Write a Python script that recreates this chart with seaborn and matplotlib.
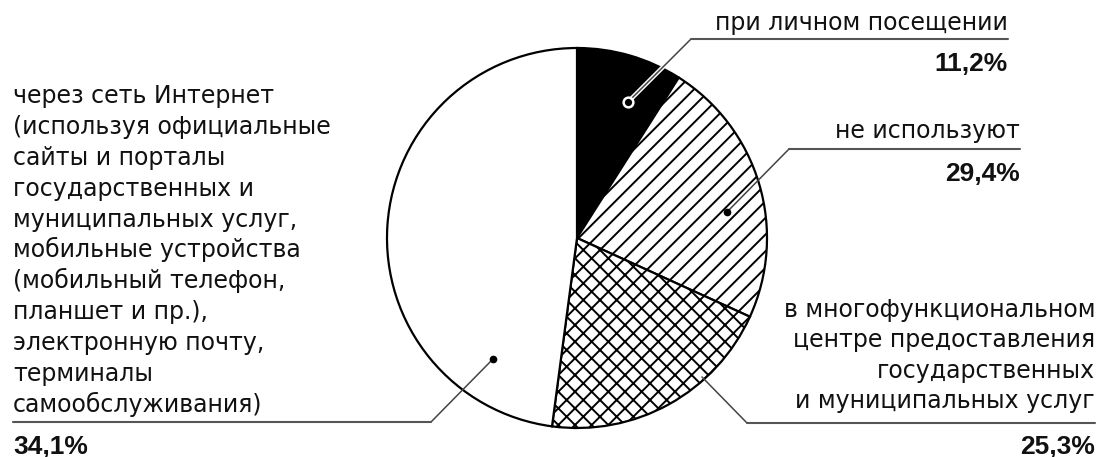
import matplotlib
matplotlib.use("Agg")
import matplotlib.pyplot as plt
import matplotlib.patheffects as pe
import seaborn as sns

# ---- data ----
categories = ["при личном посещении", "не используют",
              "в многофункциональном центре предоставления государственных и муниципальных услуг",
              "через сеть Интернет"]
# slice shares as drawn in the reference picture (angles read from it)
shares_drawn = [9.0, 22.8, 20.3, 47.9]
# percentage labels printed in the reference
pct_labels = ["11,2%", "29,4%", "25,3%", "34,1%"]

label_top = ["при личном посещении"]
label_second = ["не используют"]
label_mfc = ["в многофункциональном", "центре предоставления",
             "государственных", "и муниципальных услуг"]
label_net = ["через сеть Интернет", "(используя официальные", "сайты и порталы",
             "государственных и", "муниципальных услуг,", "мобильные устройства",
             "(мобильный телефон,", "планшет и пр.),", "электронную почту,",
             "терминалы", "самообслуживания)"]

# ---- style ----
sns.set_theme(style="white")
plt.rcParams["font.family"] = ["DejaVu Sans"]
plt.rcParams["hatch.linewidth"] = 1.4
plt.rcParams["hatch.color"] = "black"

W, H = 1098, 457
fig = plt.figure(figsize=(W / 100, H / 100), dpi=100)
ax = fig.add_axes([0, 0, 1, 1])

# ---- pie (y axis inverted below, so start at 270 and go counterclockwise in data = clockwise on screen) ----
wedges, _ = ax.pie(shares_drawn, center=(577, 238), radius=190, startangle=270,
                   counterclock=True, colors=["black", "white", "white", "white"],
                   wedgeprops=dict(edgecolor="black", linewidth=1.6), frame=True)
ax.set_xlim(0, W)
ax.set_ylim(H, 0)
ax.set_aspect("equal")
ax.axis("off")
for w, h in zip(wedges, [None, "//", "xx", None]):
    if h:
        w.set_hatch(h)

fs = 17.0
pfs = 19.0
txt = dict(fontsize=fs, color="#111111")
bold = dict(fontsize=pfs, fontweight="bold", family=["Liberation Sans"], color="#111111")
lc = "#444444"

# leader: black slice
ax.plot([628, 691], [102, 39], color=lc, lw=1.1, solid_capstyle="butt",
        path_effects=[pe.Stroke(linewidth=3.2, foreground="white"), pe.Normal()], zorder=5)
ax.plot([691, 1008], [39, 39], color="#555555", lw=1.5, zorder=6)
ax.plot([628], [102], marker="o", ms=7, mfc="black", mec="white", mew=1.8, zorder=7)
ax.text(1008, 30, label_top[0], ha="right", va="baseline", **txt)
ax.text(1008, 71, pct_labels[0], ha="right", va="baseline", **bold)

# leader: hatched slice
ax.plot([727, 789], [212, 149], color=lc, lw=1.1, zorder=5)
ax.plot([789, 1020], [149, 149], color="#555555", lw=1.5, zorder=6)
ax.plot([727], [212], marker="o", ms=4.5, color="black", zorder=7)
ax.text(1020, 138, label_second[0], ha="right", va="baseline", **txt)
ax.text(1020, 181, pct_labels[1], ha="right", va="baseline", **bold)

# leader: cross-hatched slice
ax.plot([702, 747], [377, 423], color=lc, lw=1.1, zorder=5)
ax.plot([747, 1095], [423, 423], color="#555555", lw=1.5, zorder=6)
for i, line in enumerate(label_mfc):
    ax.text(1095, 317 + i * 30.4, line, ha="right", va="baseline", **txt)
ax.text(1095, 454, pct_labels[2], ha="right", va="baseline", **bold)

# leader: white slice
ax.plot([493, 431], [359, 422], color=lc, lw=1.1, zorder=5)
ax.plot([13, 431], [422, 422], color="#555555", lw=1.5, zorder=6)
ax.plot([493], [359], marker="o", ms=4.5, color="black", zorder=7)
for i, line in enumerate(label_net):
    ax.text(13, 103 + i * 30.9, line, ha="left", va="baseline", **txt)
ax.text(13, 454, pct_labels[3], ha="left", va="baseline", **bold)

fig.savefig("out.png", dpi=100, facecolor="white")
